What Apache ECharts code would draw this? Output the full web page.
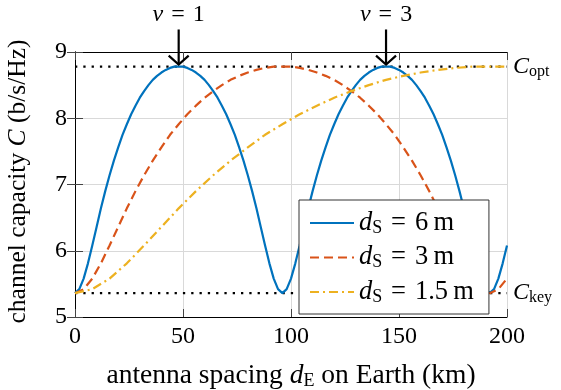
<!DOCTYPE html>
<html><head><meta charset="utf-8">
<script src="https://cdn.jsdelivr.net/npm/echarts@6/dist/echarts.min.js"></script>
<style>html,body{margin:0;padding:0;background:#fff}#c{width:561px;height:390px}</style>
</head><body><div id="c"></div>
<script>
// ---- data ----
const blueX = [0,2,4,6,8,10,12,14,16,18,20,22,24,26,28,30,32,34,36,38,40,42,44,46,48,
  50,52,54,56,58,60,62,64,66,68,70,72,74,76,78,80,82,84,86,88,90,92,94,96,
  98,100,102,104,106,108,110,112,114,116,118,120,122,124,126,128,130,132,134,136,138,140,142,144,
  146,148,150,152,154,156,158,160,162,164,166,168,170,172,174,176,178,180,182,184,186,188,190,192,
  194,196,198,200];
const blueY = [5.36,5.42,5.58,5.81,6.08,6.36,6.64,6.90,7.14,7.36,7.56,7.75,7.91,8.06,8.19,8.31,8.41,8.50,8.58,8.64,8.69,8.73,8.76,8.78,8.78,
  8.78,8.76,8.73,8.69,8.64,8.58,8.50,8.41,8.31,8.19,8.06,7.91,7.75,7.56,7.36,7.14,6.90,6.64,6.36,6.08,5.81,5.58,5.42,5.36,
  5.42,5.58,5.81,6.08,6.36,6.64,6.90,7.14,7.36,7.56,7.75,7.91,8.06,8.19,8.31,8.41,8.50,8.58,8.64,8.69,8.73,8.76,8.78,8.78,
  8.78,8.76,8.73,8.69,8.64,8.58,8.50,8.41,8.31,8.19,8.06,7.91,7.75,7.56,7.36,7.14,6.90,6.64,6.36,6.08,5.81,5.58,5.42,5.36,
  5.42,5.58,5.81,6.08];
const redX = [0,4,8,12,16,20,24,28,32,36,40,44,48,52,56,60,64,68,72,76,80,84,88,92,96,
  100,104,108,112,116,120,124,128,132,136,140,144,148,152,156,160,164,168,172,176,180,184,188,192,
  196,200];
const redY = [5.36,5.42,5.58,5.81,6.08,6.36,6.64,6.90,7.14,7.36,7.56,7.75,7.91,8.06,8.19,8.31,8.41,8.50,8.58,8.64,8.69,8.73,8.76,8.78,8.78,
  8.78,8.76,8.73,8.69,8.64,8.58,8.50,8.41,8.31,8.19,8.06,7.91,7.75,7.56,7.36,7.14,6.90,6.64,6.36,6.08,5.81,5.58,5.42,5.36,
  5.42,5.58];
const yellowX = [0,8,16,24,32,40,48,56,64,72,80,88,96,104,112,120,128,136,144,152,160,168,176,184,192,200];
const yellowY = [5.36,5.42,5.58,5.81,6.08,6.36,6.64,6.90,7.14,7.36,7.56,7.75,7.91,8.06,8.19,8.31,8.41,8.50,8.58,8.64,8.69,8.73,8.76,8.78,8.78,8.78];
const seriesNames = ['6', '3', '1.5'];          // d_S in metres
const levelNames = ['opt', 'key'];
const levelValues = [8.78, 5.36];
const arrowX = [48, 144];
const arrowLabels = ['1', '3'];
const xTicks = [0, 50, 100, 150, 200];
const yTicks = [5, 6, 7, 8, 9];

// ---- chart ----
const FONT = 'Liberation Serif';
const FS = 24;
const colors = ['#0072BD', '#D95319', '#EDB120'];
function mkRich(fs, subFs, subPad, lh) {
  return {
    i: {fontFamily: FONT, fontStyle: 'italic', fontSize: fs, color: '#000', lineHeight: lh},
    n: {fontFamily: FONT, fontSize: fs, color: '#000', lineHeight: lh},
    s: {fontFamily: FONT, fontSize: subFs, color: '#000', padding: [subPad, 0, 0, 0], lineHeight: lh - subPad}
  };
}
const rich = mkRich(FS, 16, 10, 30);
const legendRich = mkRich(26.5, 18, 10, 26);
const xNameRich = mkRich(27.5, 18, 11, 32);
const yNameRich = mkRich(25.5, 17, 10, 30);
const pair = (xs, ys) => xs.map((x, k) => [x, ys[k]]);
const chart = echarts.init(document.getElementById('c'));

const lineSeries = [
  {data: pair(blueX, blueY), type: 'solid'},
  {data: pair(redX, redY), type: [9, 5]},
  {data: pair(yellowX, yellowY), type: [9, 4, 2, 4]}
].map((s, k) => ({
  name: seriesNames[k], type: 'line', data: s.data, showSymbol: false, symbol: 'none',
  smooth: false, z: 3 + k, clip: true,
  lineStyle: {color: colors[k], width: 2.2, type: s.type},
  itemStyle: {color: colors[k]}
}));
const levelSeries = levelValues.map((v, k) => ({
  name: 'C' + levelNames[k], type: 'line', data: [[xTicks[0], v], [xTicks[xTicks.length - 1], v]],
  showSymbol: false, symbol: 'none', z: 2, silent: true,
  lineStyle: {color: '#000', width: 2.3, type: [2.3, 6]},
  endLabel: {show: true, formatter: '{i|C}{s|' + levelNames[k] + '}', rich: rich, offset: [-2, 0]}
}));

const axisCommon = {
  type: 'value', splitLine: {show: false},
  axisLine: {show: true, lineStyle: {color: '#000', width: 1}},
  axisTick: {show: true, inside: true, length: 8, lineStyle: {color: '#444', width: 1}}
};
chart.setOption({
  animation: false,
  backgroundColor: '#fff',
  grid: {left: 75, top: 52, width: 432, height: 265, show: false, containLabel: false, outerBoundsMode: 'none'},
  xAxis: [
    Object.assign({}, axisCommon, {min: 0, max: 200, interval: 50, position: 'bottom',
      splitLine: {show: true, lineStyle: {color: '#d9d9d9', width: 1}},
      axisLabel: {fontFamily: FONT, fontSize: FS, color: '#000', margin: 8},
      name: '{n|antenna spacing }{i|d}{s|E}{n| on Earth (km)}', nameLocation: 'middle', nameGap: 43,
      nameTextStyle: {rich: xNameRich}}),
    Object.assign({}, axisCommon, {min: 0, max: 200, interval: 50, position: 'top', axisLabel: {show: false}})
  ],
  yAxis: [
    Object.assign({}, axisCommon, {min: 5, max: 9, interval: 1, position: 'left',
      splitLine: {show: true, lineStyle: {color: '#d9d9d9', width: 1}},
      axisLabel: {fontFamily: FONT, fontSize: FS, color: '#000', margin: 8},
      name: '{n|channel capacity }{i|C}{n| (b/s/Hz)}', nameLocation: 'middle', nameGap: 42,
      nameTextStyle: {rich: yNameRich, padding: [0, 0, 0, 6]}}),
    Object.assign({}, axisCommon, {min: 5, max: 9, interval: 1, position: 'right', axisLabel: {show: false}})
  ],
  legend: {
    data: seriesNames, orient: 'vertical', left: 299, top: 200,
    padding: [9, 15, 8, 10], itemGap: 6.5, itemWidth: 44, itemHeight: 20,
    backgroundColor: '#fff', borderColor: '#333', borderWidth: 1, borderRadius: 0, z: 20,
    itemStyle: {opacity: 0},
    formatter: n => '{i|d}{s|S}{n|\u2004=\u2004' + n + '\u2009m}',
    textStyle: {rich: legendRich}
  },
  series: lineSeries.concat(levelSeries)
});

const g = [];
arrowX.forEach((x, k) => {
  const top = chart.convertToPixel({gridIndex: 0}, [x, 9.34]);
  const tip = chart.convertToPixel({gridIndex: 0}, [x, 8.81]);
  const txt = chart.convertToPixel({gridIndex: 0}, [x, 9.57]);
  g.push({type: 'line', shape: {x1: top[0], y1: top[1], x2: tip[0], y2: tip[1]}, style: {stroke: '#000', lineWidth: 2.2}, z: 30});
  g.push({type: 'polyline', shape: {points: [[tip[0] - 10, tip[1] - 9], [tip[0], tip[1]], [tip[0] + 10, tip[1] - 9]]}, style: {stroke: '#000', lineWidth: 2.2, fill: null}, z: 30});
  g.push({type: 'text', x: txt[0], y: txt[1], z: 30, style: {text: '{i|\u03BD}{n|\u2004=\u2004' + arrowLabels[k] + '}', rich: rich, align: 'center', verticalAlign: 'middle'}});
});
chart.setOption({graphic: g});
</script></body></html>
